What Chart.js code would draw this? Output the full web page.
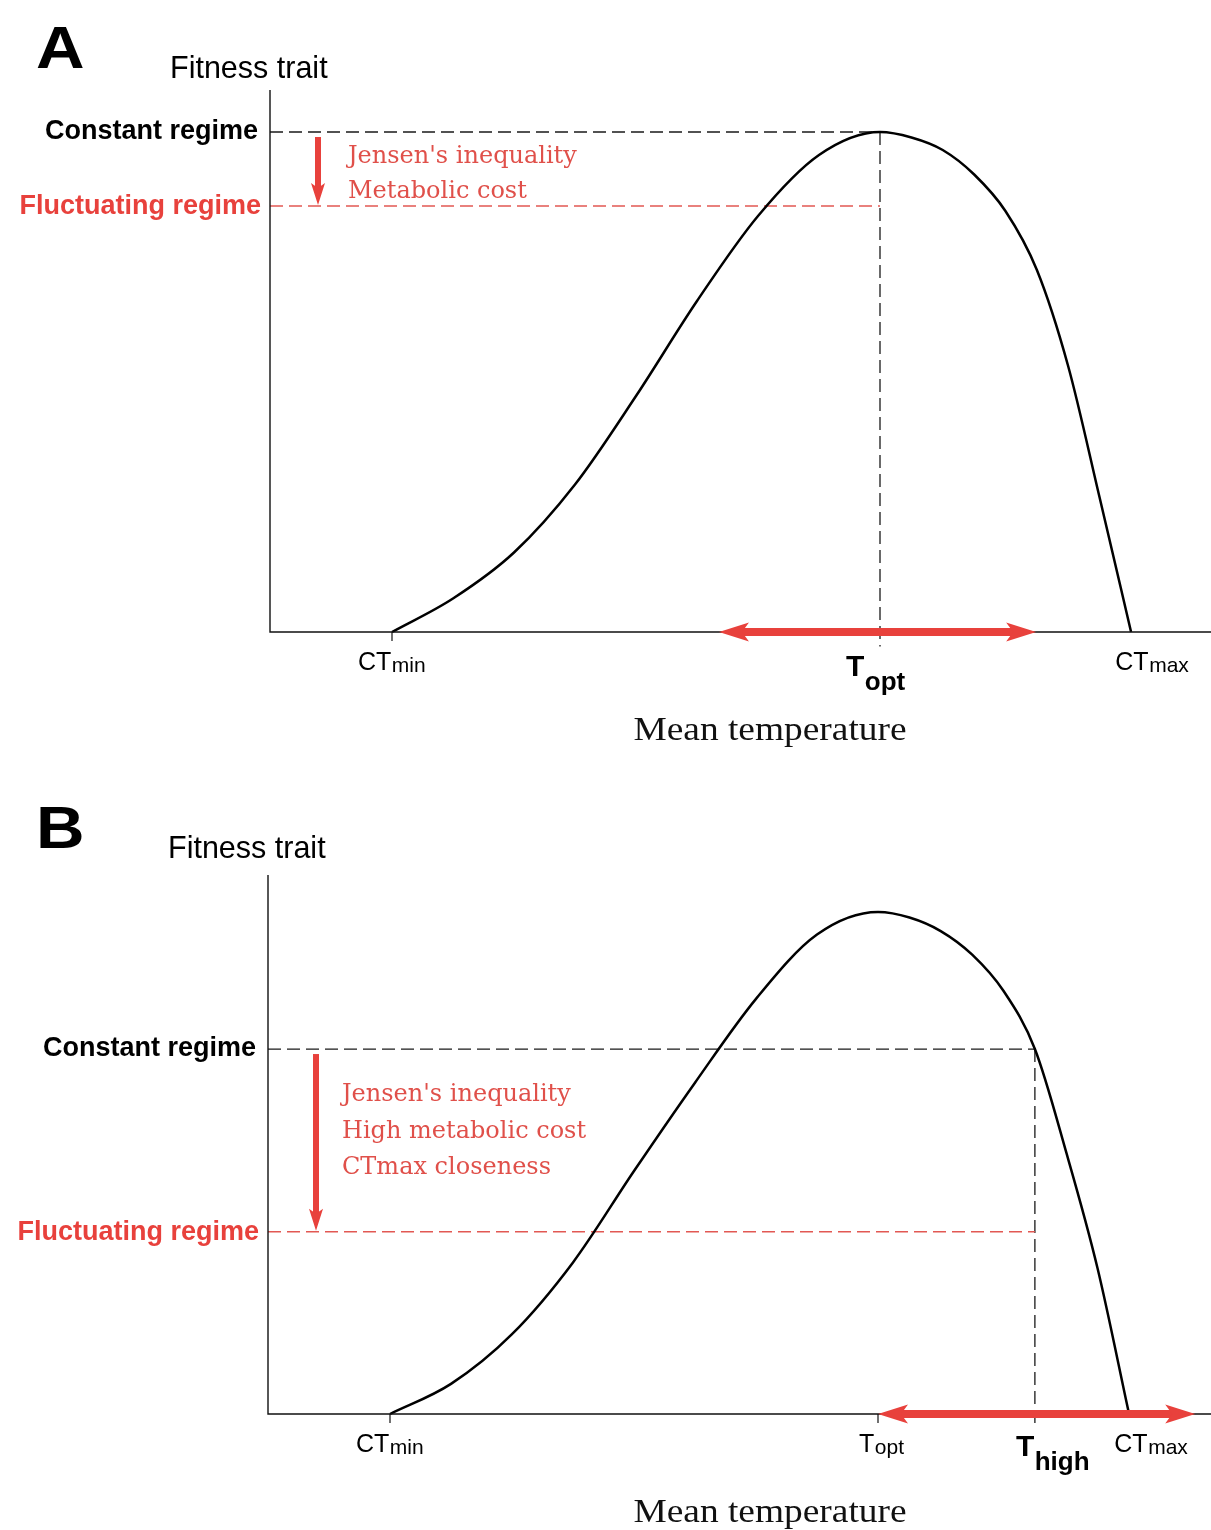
<!DOCTYPE html>
<html><head><meta charset="utf-8">
<script src="https://cdn.jsdelivr.net/npm/chart.js@4/dist/chart.umd.min.js"></script>
<style>html,body{margin:0;padding:0;background:#fff;width:1211px;height:1530px;overflow:hidden}canvas{display:block;position:absolute;left:0}</style>
</head><body>
<canvas id="cA" width="1211" height="765" style="top:0"></canvas>
<canvas id="cB" width="1211" height="765" style="top:765px"></canvas>
<script>
// ---------- DATA ----------
// Panel A: thermal performance curve (mean temperature vs fitness trait)
const tempA    = [10, 12.5, 15, 17.5, 20, 22.5, 25, 27.5, 30, 31.29, 32.57, 33.86, 35.14, 36.43, 37.71, 39.00, 40.29];
const fitnessA = [0, 0.067, 0.159, 0.295, 0.472, 0.662, 0.832, 0.954, 1.000, 0.989, 0.964, 0.915, 0.842, 0.724, 0.532, 0.269, 0];
const regimesA = [1.0, 0.852];            // constant, fluctuating
const refTempA = 30;                        // Topt
const rangeA   = [23.4, 36.4];              // fluctuation range arrow
const ticksA   = [10, 30, 40.3];
const tickLabelsA = [["CT","min"],["T","opt"],["CT","max"]];
const notesA   = ["Jensen's inequality", "Metabolic cost"];

// Panel B
const tempB    = [10, 12.5, 15, 17.5, 20, 22.5, 25, 27.5, 30, 31.29, 32.57, 33.86, 35.14, 36.43, 37.71, 39.00, 40.29];
const fitnessB = [0, 0.060, 0.159, 0.302, 0.484, 0.660, 0.827, 0.955, 1.000, 0.989, 0.962, 0.915, 0.843, 0.727, 0.522, 0.290, 0];
const regimesB = [0.727, 0.363];
const refTempB = 36.43;                     // Thigh
const rangeB   = [30, 43.0];
const ticksB   = [10, 30, 36.43, 40.3];
const tickLabelsB = [["CT","min"],["T","opt"],["T","high"],["CT","max"]];
const notesB   = ["Jensen's inequality", "High metabolic cost", "CTmax closeness"];

const regimeLabels = ["Constant regime", "Fluctuating regime"];
const xTitle = "Mean temperature";
const yTitle = "Fitness trait";

// ---------- STYLE ----------
const RED = '#e8413c', RED_TXT = '#e0504a', RED_DASH = '#e25853';
const SANS = '"Liberation Sans", Arial, sans-serif';

function pts(xs, ys){ return xs.map((x,i)=>({x, y: ys[i]})); }

function drawSub(ctx, x, y, main, sub, mf, sf, dy){
  ctx.font = mf; const w1 = ctx.measureText(main).width;
  ctx.textAlign = 'left'; ctx.textBaseline = 'alphabetic';
  ctx.fillText(main, x, y);
  ctx.font = sf; ctx.fillText(sub, x + w1 + 0.5, y + dy);
}
function hArrow(ctx, x1, x2, y){
  const L = 30, hw = 9.5, back = 23, sw = 8;
  ctx.fillStyle = RED;
  ctx.fillRect(x1 + back - 1, y - sw/2, (x2 - back) - (x1 + back) + 2, sw);
  ctx.beginPath(); ctx.moveTo(x1, y); ctx.lineTo(x1 + L, y - hw); ctx.lineTo(x1 + back, y); ctx.lineTo(x1 + L, y + hw); ctx.closePath(); ctx.fill();
  ctx.beginPath(); ctx.moveTo(x2, y); ctx.lineTo(x2 - L, y - hw); ctx.lineTo(x2 - back, y); ctx.lineTo(x2 - L, y + hw); ctx.closePath(); ctx.fill();
}
function vArrow(ctx, x, y1, y2){
  ctx.fillStyle = RED;
  ctx.fillRect(x - 3, y1, 6, (y2 - 16) - y1);
  ctx.beginPath(); ctx.moveTo(x, y2); ctx.lineTo(x - 7, y2 - 22); ctx.lineTo(x, y2 - 17); ctx.lineTo(x + 7, y2 - 22); ctx.closePath(); ctx.fill();
}

function decor(cfg){
  return {
    id: 'decor' + cfg.letter,
    afterDatasetsDraw(chart){
      const ctx = chart.ctx, a = chart.chartArea, xs = chart.scales.x, ys = chart.scales.y;
      ctx.save();
      // axes
      ctx.strokeStyle = '#111'; ctx.lineWidth = 1.4; ctx.setLineDash([]);
      ctx.beginPath(); ctx.moveTo(a.left, a.top); ctx.lineTo(a.left, a.bottom); ctx.lineTo(a.right, a.bottom); ctx.stroke();
      // panel letter & y title
      ctx.fillStyle = '#000'; ctx.textAlign = 'left'; ctx.textBaseline = 'alphabetic';
      ctx.save(); ctx.translate(36, cfg.letterBase); ctx.scale(1.12, 1);
      ctx.font = 'bold 60px ' + SANS; ctx.fillText(cfg.letter, 0, 0); ctx.restore();
      ctx.font = '30.5px ' + SANS; ctx.fillText(yTitle, a.left - 100, cfg.titleBase);
      // regime labels
      ctx.textAlign = 'right'; ctx.textBaseline = 'middle'; ctx.font = 'bold 27px ' + SANS;
      ctx.fillStyle = '#000'; ctx.fillText(regimeLabels[0], a.left - 12, ys.getPixelForValue(cfg.regimes[0]));
      ctx.fillStyle = RED; ctx.fillText(regimeLabels[1], a.left - 9, ys.getPixelForValue(cfg.regimes[1]) + 1);
      // vertical red arrow
      const yC = ys.getPixelForValue(cfg.regimes[0]), yF = ys.getPixelForValue(cfg.regimes[1]);
      vArrow(ctx, a.left + 48, yC + 5, yF - 1);
      // notes
      ctx.fillStyle = RED_TXT; ctx.textAlign = 'left'; ctx.textBaseline = 'middle';
      ctx.font = '24px "DejaVu Serif", serif';
      cfg.notes.forEach((t, i) => ctx.fillText(t, a.left + cfg.noteX, cfg.noteY0 + i * cfg.noteDy));
      // range arrow
      hArrow(ctx, xs.getPixelForValue(cfg.range[0]), xs.getPixelForValue(cfg.range[1]), a.bottom);
      // tick marks and labels
      ctx.strokeStyle = '#111'; ctx.lineWidth = 1.2;
      ctx.fillStyle = '#000';
      cfg.ticks.forEach((t, i) => {
        const px = xs.getPixelForValue(t);
        const lab = cfg.tickLabels[i];
        const st = cfg.tickStyles[i];
        if (st.tick) { ctx.beginPath(); ctx.moveTo(px, a.bottom); ctx.lineTo(px, a.bottom + 9); ctx.stroke(); }
        if (st.bold) drawSub(ctx, px + st.dx, a.bottom + st.base, lab[0], lab[1], 'bold 30px ' + SANS, 'bold 26px ' + SANS, 14);
        else drawSub(ctx, px + st.dx, a.bottom + st.base, lab[0], lab[1], '25px ' + SANS, '21px ' + SANS, 2);
      });
      // x title
      ctx.fillStyle = '#111'; ctx.textAlign = 'center'; ctx.textBaseline = 'alphabetic';
      ctx.save(); ctx.translate(770, a.bottom + cfg.xTitleOff); ctx.scale(1.1, 1);
      ctx.font = '34px "Liberation Serif", "Times New Roman", serif'; ctx.fillText(xTitle, 0, 0);
      ctx.restore();
      ctx.restore();
    }
  };
}

function makeChart(id, xsArr, ysArr, regimes, refT, pad, yMax, cfg){
  const xmin = 5, xmax = 5 + (1211 - pad.left) / 24.4;
  const lineDs = (data, color, w, dash) => ({data, showLine:true, borderColor:color, borderWidth:w, borderDash:dash, pointRadius:0, clip:false, fill:false});
  new Chart(document.getElementById(id), {
    type: 'scatter',
    data: { datasets: [
      Object.assign(lineDs(pts(xsArr, ysArr), '#000', 2.5, []), {cubicInterpolationMode:'monotone', borderJoinStyle:'round'}),
      lineDs([{x:xmin, y:regimes[0]}, {x:refT, y:regimes[0]}], '#1a1a1a', 1.3, [13,6]),
      lineDs([{x:xmin, y:regimes[1]}, {x:refT, y:regimes[1]}], RED_DASH, 1.3, [13,6]),
      lineDs([{x:refT, y:regimes[0]}, {x:refT, y:-0.029}], '#1a1a1a', 1.3, [13,6])
    ]},
    options: {
      responsive:false, animation:false, devicePixelRatio:1, events:[],
      layout:{padding:pad},
      plugins:{legend:{display:false}, tooltip:{enabled:false}},
      scales:{ x:{type:'linear', display:false, min:xmin, max:xmax}, y:{type:'linear', display:false, min:0, max:yMax} }
    },
    plugins:[decor(cfg)]
  });
}

makeChart('cA', tempA, fitnessA, regimesA, refTempA, {left:270, right:0, top:90, bottom:133}, 1.084, {
  letter:'A', letterBase:68, titleBase:78, regimes:regimesA, notes:notesA, noteX:78, noteY0:157, noteDy:35,
  range:rangeA, ticks:ticksA, tickLabels:tickLabelsA,
  tickStyles:[{tick:true, dx:-34, base:38, bold:false},{tick:false, dx:-34, base:44, bold:true},{tick:false, dx:-16, base:38, bold:false}],
  xTitleOff:108
});
makeChart('cB', tempB, fitnessB, regimesB, refTempB, {left:268, right:0, top:110, bottom:116}, 1.0737, {
  letter:'B', letterBase:848-765, titleBase:858-765, regimes:regimesB, notes:notesB, noteX:74, noteY0:1095-765, noteDy:36.5,
  range:rangeB, ticks:ticksB, tickLabels:tickLabelsB,
  tickStyles:[{tick:true, dx:-34, base:38, bold:false},{tick:true, dx:-19, base:38, bold:false},{tick:false, dx:-19, base:42, bold:true},{tick:false, dx:-15, base:38, bold:false}],
  xTitleOff:108
});
</script>
</body></html>
